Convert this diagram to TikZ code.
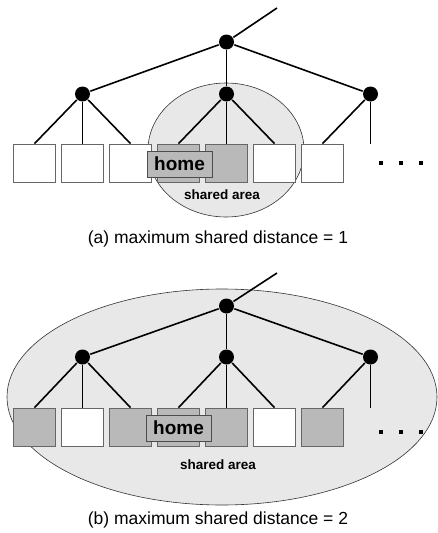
\documentclass[tikz,border=0pt]{standalone}
\usepackage{fontspec}
\setmainfont{Liberation Sans}
\begin{document}
\begin{tikzpicture}
[x=1pt,y=-1pt,line width=1.6pt,
 dot/.style={circle,fill=black,inner sep=0pt,minimum size=15pt},
 cell/.style={draw=gray!80!black,line width=0.8pt,fill=white,minimum width=42pt,minimum height=38pt,inner sep=0pt},
 shcell/.style={cell,fill=gray!55},
 homebox/.style={draw=black!70,line width=0.8pt,fill=gray!55,minimum width=65pt,minimum height=26pt,inner sep=0pt,font=\bfseries\fontsize{19}{19}\selectfont},
 area/.style={draw=black!80,line width=0.6pt,fill=gray!18},
 arealabel/.style={font=\bfseries\fontsize{13.5}{13.5}\selectfont},
 more/.style={rectangle,fill=black,inner sep=0pt,minimum size=4.5pt},
 caption/.style={font=\fontsize{17.5}{17.5}\selectfont}]
\useasboundingbox (0,0) rectangle (437,533);
% (a) maximum shared distance = 1
\draw[area] (226,150) ellipse [x radius=78, y radius=67];
\node[dot] (ar) at (226.5,42) {};
\coordinate (aup) at (277,8);
\node[dot] (al) at (82.5,94) {};
\node[dot] (am) at (226.5,94) {};
\node[dot] (an) at (370.5,94) {};
\coordinate (aend) at (370.5,144);
\node[cell] (a1) at (34.5,163) {};
\node[cell] (a2) at (82.5,163) {};
\node[cell] (a3) at (130.5,163) {};
\node[shcell] (a4) at (178.5,163) {};
\node[shcell] (a5) at (226.5,163) {};
\node[cell] (a6) at (274.5,163) {};
\node[cell] (a7) at (322.5,163) {};
\node[homebox] (ahome) at (179.5,164) {home};
\node[arealabel] (aarea) at (222,195) {shared area};
\node[more] (am1) at (381,163) {};
\node[more] (am2) at (401,163) {};
\node[more] (am3) at (421,163) {};
\draw (ar) -- (aup);
\draw (ar) -- (al);
\draw (ar) -- (am);
\draw (ar) -- (an);
\draw (al) -- (a1.north);
\draw (al) -- (a2.north);
\draw (al) -- (a3.north);
\draw (am) -- (a4.north);
\draw (am) -- (a5.north);
\draw (am) -- (a6.north);
\draw (an) -- (a7.north);
\draw (an) -- (aend);
\node[caption] (acap) at (218,239) {(a) maximum shared distance = 1};
% (b) maximum shared distance = 2
\draw[area] (222,397) ellipse [x radius=215, y radius=108];
\node[dot] (br) at (226.5,306) {};
\coordinate (bup) at (277,273);
\node[dot] (bl) at (82.5,357) {};
\node[dot] (bm) at (226.5,357) {};
\node[dot] (bn) at (370.5,357) {};
\coordinate (bend) at (370.5,408);
\node[shcell] (b1) at (34.5,427) {};
\node[cell] (b2) at (82.5,427) {};
\node[shcell] (b3) at (130.5,427) {};
\node[shcell] (b4) at (178.5,427) {};
\node[shcell] (b5) at (226.5,427) {};
\node[cell] (b6) at (274.5,427) {};
\node[shcell] (b7) at (322.5,427) {};
\node[homebox] (bhome) at (178.5,428) {home};
\node[arealabel] (barea) at (218,465) {shared area};
\node[more] (bm1) at (381,432) {};
\node[more] (bm2) at (401,432) {};
\node[more] (bm3) at (421,432) {};
\draw (br) -- (bup);
\draw (br) -- (bl);
\draw (br) -- (bm);
\draw (br) -- (bn);
\draw (bl) -- (b1.north);
\draw (bl) -- (b2.north);
\draw (bl) -- (b3.north);
\draw (bm) -- (b4.north);
\draw (bm) -- (b5.north);
\draw (bm) -- (b6.north);
\draw (bn) -- (b7.north);
\draw (bn) -- (bend);
\node[caption] (bcap) at (218,520) {(b) maximum shared distance = 2};
\end{tikzpicture}
\end{document}
